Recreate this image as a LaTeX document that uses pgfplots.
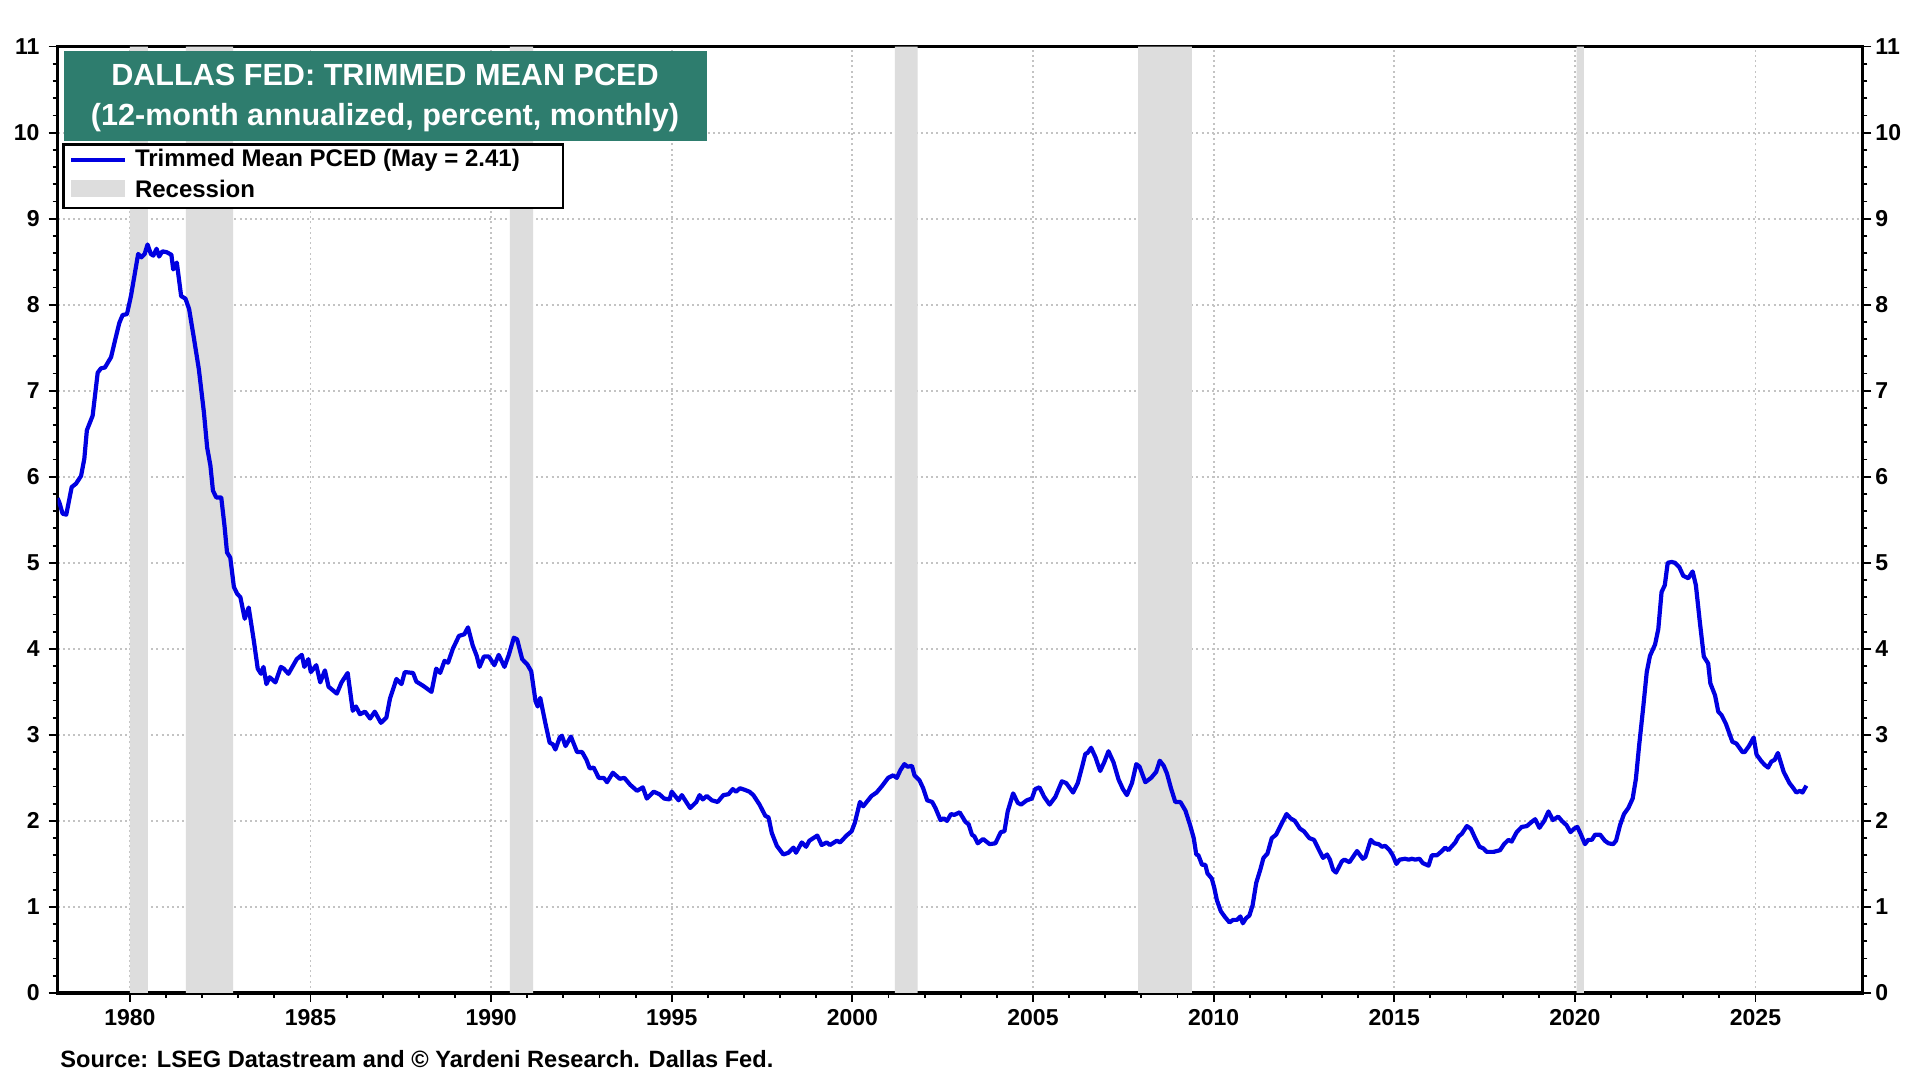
\documentclass[border=0pt]{standalone}
\usepackage{fontspec}
\setmainfont{Liberation Sans}
\usepackage{pgfplots}
\pgfplotsset{compat=1.18}
\definecolor{ttl}{RGB}{46,125,110}
\definecolor{ln}{RGB}{0,0,225}
\definecolor{rec}{RGB}{221,221,221}
\definecolor{grd}{RGB}{195,195,195}
\begin{document}
\begin{tikzpicture}
\useasboundingbox (0,0) rectangle (960pt,540pt);
\fill[white] (0,0) rectangle (960pt,540pt);
\begin{axis}[
 at={(28.8pt,43.5pt)}, anchor=south west, scale only axis, width=902.4pt, height=473.2pt,
 xmin=1978, xmax=2027.96, ymin=0, ymax=11,
 xtick={1980,1985,...,2025}, minor x tick num=4,
 ytick={0,...,11}, minor y tick num=4,
 xtick pos=bottom, ytick pos=both, tick align=outside,
 major tick length=4.5pt, minor tick length=2.5pt,
 tick style={black, line width=0.9pt},
 axis line style={line width=1.9pt},
 xmajorgrids, ymajorgrids,
 major grid style={grd, line width=0.9pt, dash pattern=on 1pt off 1.6pt},
 /pgf/number format/1000 sep={}, /pgf/number format/assume math mode=true,
 tick label style={font=\fontsize{11.5}{12}\selectfont\bfseries},
 yticklabel style={xshift=-1pt},
]
\addplot[fill=rec, draw=none] coordinates {(1980.0,0) (1980.0,11) (1980.5,11) (1980.5,0)} \closedcycle;
\addplot[fill=rec, draw=none] coordinates {(1981.55,0) (1981.55,11) (1982.86,11) (1982.86,0)} \closedcycle;
\addplot[fill=rec, draw=none] coordinates {(1990.52,0) (1990.52,11) (1991.16,11) (1991.16,0)} \closedcycle;
\addplot[fill=rec, draw=none] coordinates {(2001.18,0) (2001.18,11) (2001.81,11) (2001.81,0)} \closedcycle;
\addplot[fill=rec, draw=none] coordinates {(2007.91,0) (2007.91,11) (2009.40,11) (2009.40,0)} \closedcycle;
\addplot[fill=rec, draw=none] coordinates {(2020.05,0) (2020.05,11) (2020.25,11) (2020.25,0)} \closedcycle;
\addplot[ln, line width=2.1pt, line join=round] coordinates {
(1978.00,5.75) (1978.05,5.70) (1978.14,5.57) (1978.24,5.56) (1978.39,5.88) (1978.51,5.92)
(1978.65,6.01) (1978.74,6.21) (1978.81,6.54) (1978.97,6.71) (1979.11,7.21) (1979.20,7.26)
(1979.31,7.27) (1979.48,7.39) (1979.61,7.62) (1979.71,7.79) (1979.80,7.88) (1979.92,7.89)
(1980.03,8.10) (1980.12,8.32) (1980.23,8.59) (1980.32,8.55) (1980.41,8.59) (1980.49,8.70)
(1980.58,8.59) (1980.65,8.57) (1980.74,8.65) (1980.81,8.56) (1980.90,8.62) (1981.02,8.61)
(1981.15,8.58) (1981.20,8.41) (1981.30,8.49) (1981.42,8.10) (1981.54,8.07) (1981.64,7.95)
(1981.77,7.62) (1981.91,7.25) (1982.05,6.75) (1982.14,6.34) (1982.23,6.13) (1982.30,5.84)
(1982.39,5.76) (1982.53,5.76) (1982.62,5.43) (1982.69,5.12) (1982.78,5.06) (1982.88,4.72)
(1982.97,4.64) (1983.06,4.60) (1983.18,4.35) (1983.29,4.48) (1983.43,4.10) (1983.54,3.77)
(1983.63,3.71) (1983.70,3.79) (1983.78,3.59) (1983.87,3.67) (1984.03,3.61) (1984.18,3.79)
(1984.26,3.77) (1984.39,3.71) (1984.62,3.88) (1984.76,3.93) (1984.83,3.79) (1984.94,3.88)
(1985.01,3.73) (1985.16,3.81) (1985.27,3.61) (1985.40,3.75) (1985.50,3.56) (1985.73,3.48)
(1985.86,3.61) (1986.03,3.72) (1986.17,3.28) (1986.26,3.33) (1986.37,3.24) (1986.51,3.27)
(1986.65,3.19) (1986.78,3.27) (1986.95,3.14) (1987.10,3.20) (1987.20,3.42) (1987.38,3.65)
(1987.52,3.59) (1987.61,3.73) (1987.84,3.72) (1987.93,3.62) (1988.12,3.57) (1988.35,3.50)
(1988.48,3.77) (1988.59,3.72) (1988.71,3.86) (1988.81,3.84) (1988.94,4.00) (1989.11,4.15)
(1989.26,4.17) (1989.36,4.25) (1989.49,4.04) (1989.60,3.92) (1989.68,3.79)
(1989.80,3.91) (1989.94,3.91) (1990.09,3.81) (1990.21,3.93) (1990.37,3.79) (1990.49,3.93)
(1990.63,4.13) (1990.72,4.11) (1990.86,3.88) (1991.00,3.82) (1991.11,3.74) (1991.23,3.39)
(1991.29,3.33) (1991.36,3.43) (1991.50,3.14) (1991.62,2.91) (1991.71,2.89) (1991.78,2.83)
(1991.90,2.97) (1991.96,2.99) (1992.06,2.87) (1992.21,2.98) (1992.38,2.80) (1992.52,2.80)
(1992.64,2.71) (1992.73,2.61) (1992.84,2.62) (1992.98,2.50) (1993.12,2.50) (1993.21,2.45)
(1993.37,2.56) (1993.56,2.49) (1993.69,2.50) (1993.85,2.42) (1994.04,2.35) (1994.20,2.39)
(1994.31,2.26) (1994.50,2.34) (1994.66,2.31) (1994.79,2.26) (1994.94,2.25) (1995.00,2.34)
(1995.19,2.24) (1995.28,2.30) (1995.51,2.15) (1995.68,2.22) (1995.77,2.30) (1995.86,2.25)
(1995.97,2.29) (1996.11,2.24) (1996.27,2.22) (1996.43,2.30) (1996.57,2.31) (1996.69,2.37)
(1996.78,2.34) (1996.89,2.38) (1997.03,2.36) (1997.15,2.34) (1997.26,2.30) (1997.43,2.19)
(1997.59,2.06) (1997.68,2.04) (1997.77,1.86) (1997.91,1.71) (1998.09,1.61) (1998.23,1.63)
(1998.37,1.69) (1998.44,1.63) (1998.60,1.75) (1998.72,1.70) (1998.81,1.77) (1999.03,1.83)
(1999.15,1.72) (1999.29,1.75) (1999.38,1.72) (1999.57,1.77) (1999.66,1.75) (1999.84,1.83)
(1999.98,1.88) (2000.07,1.98) (2000.21,2.22) (2000.30,2.17) (2000.53,2.29) (2000.67,2.33)
(2000.81,2.40) (2000.99,2.50) (2001.13,2.53) (2001.23,2.50)
(2001.33,2.59) (2001.44,2.66) (2001.53,2.63) (2001.65,2.64) (2001.72,2.53) (2001.86,2.47)
(2001.96,2.38) (2002.07,2.24) (2002.21,2.22) (2002.30,2.15) (2002.44,2.01) (2002.53,2.03)
(2002.62,2.00) (2002.73,2.08) (2002.82,2.07) (2002.97,2.10) (2003.13,1.99) (2003.22,1.96)
(2003.31,1.84) (2003.38,1.82) (2003.47,1.74) (2003.62,1.79) (2003.80,1.73) (2003.96,1.74)
(2004.11,1.87) (2004.21,1.88) (2004.30,2.11) (2004.45,2.32) (2004.58,2.21) (2004.67,2.19)
(2004.83,2.24) (2004.97,2.26) (2005.06,2.37) (2005.18,2.39) (2005.31,2.28) (2005.46,2.19)
(2005.62,2.28) (2005.80,2.46) (2005.92,2.44) (2006.11,2.33) (2006.24,2.44) (2006.36,2.63)
(2006.45,2.78) (2006.51,2.79) (2006.61,2.85) (2006.73,2.74) (2006.86,2.58) (2006.97,2.68)
(2007.09,2.81) (2007.23,2.68) (2007.37,2.48) (2007.49,2.37) (2007.60,2.30) (2007.74,2.44)
(2007.86,2.66) (2007.95,2.63) (2008.11,2.45) (2008.27,2.50) (2008.41,2.57) (2008.51,2.70)
(2008.62,2.64) (2008.71,2.55) (2008.82,2.38) (2008.94,2.22) (2009.08,2.22) (2009.22,2.12)
(2009.35,1.95) (2009.45,1.80) (2009.52,1.61) (2009.58,1.60) (2009.68,1.49) (2009.77,1.49)
(2009.83,1.39) (2009.95,1.33) (2010.02,1.22) (2010.09,1.08) (2010.20,0.95) (2010.32,0.88)
(2010.44,0.82) (2010.54,0.85) (2010.65,0.85) (2010.74,0.89) (2010.81,0.81) (2010.90,0.87)
(2010.99,0.90) (2011.08,1.02) (2011.18,1.28) (2011.29,1.43) (2011.38,1.57) (2011.49,1.62)
(2011.61,1.80) (2011.73,1.84) (2011.86,1.95) (2012.02,2.08) (2012.13,2.03) (2012.25,2.00)
(2012.39,1.91) (2012.50,1.88) (2012.65,1.80) (2012.78,1.78) (2012.92,1.66) (2013.03,1.57)
(2013.14,1.61) (2013.22,1.55) (2013.31,1.43) (2013.39,1.40) (2013.55,1.53)
(2013.62,1.55) (2013.76,1.52) (2013.97,1.65) (2014.13,1.56) (2014.20,1.58) (2014.35,1.78)
(2014.45,1.74) (2014.57,1.73) (2014.66,1.70) (2014.75,1.71) (2014.87,1.66) (2014.96,1.60)
(2015.06,1.50) (2015.15,1.55) (2015.30,1.56) (2015.40,1.55) (2015.49,1.56) (2015.58,1.55)
(2015.70,1.56) (2015.79,1.51) (2015.95,1.48) (2016.04,1.60) (2016.18,1.60) (2016.32,1.65)
(2016.41,1.69) (2016.50,1.66) (2016.69,1.75) (2016.78,1.82) (2016.87,1.85) (2017.01,1.94)
(2017.12,1.91) (2017.24,1.80) (2017.36,1.70) (2017.47,1.68) (2017.56,1.64) (2017.75,1.64)
(2017.93,1.66) (2018.04,1.73) (2018.16,1.78) (2018.25,1.76) (2018.39,1.87) (2018.53,1.93)
(2018.67,1.94) (2018.81,1.99) (2018.90,2.02) (2019.02,1.92) (2019.15,2.00) (2019.27,2.11)
(2019.39,2.01) (2019.54,2.05) (2019.64,2.00) (2019.77,1.95) (2019.88,1.87) (2019.98,1.91)
(2020.07,1.93) (2020.16,1.85) (2020.28,1.73) (2020.37,1.78) (2020.47,1.78) (2020.56,1.84)
(2020.70,1.84) (2020.83,1.77) (2020.93,1.74) (2021.06,1.73) (2021.14,1.77) (2021.25,1.95)
(2021.36,2.08) (2021.48,2.15) (2021.60,2.26) (2021.69,2.49) (2021.78,2.88) (2021.89,3.31)
(2021.99,3.73) (2022.08,3.92) (2022.22,4.05) (2022.31,4.23) (2022.40,4.66) (2022.49,4.74)
(2022.57,5.00) (2022.68,5.01) (2022.77,5.00) (2022.89,4.95) (2023.00,4.85) (2023.14,4.82)
(2023.26,4.90) (2023.35,4.74) (2023.46,4.31) (2023.57,3.91) (2023.69,3.83) (2023.75,3.60)
(2023.88,3.46) (2023.97,3.27) (2024.06,3.23) (2024.18,3.13) (2024.36,2.92) (2024.47,2.90)
(2024.64,2.80) (2024.70,2.80) (2024.82,2.87) (2024.95,2.97) (2025.03,2.77) (2025.17,2.69)
(2025.26,2.65) (2025.35,2.62) (2025.44,2.69) (2025.53,2.71) (2025.62,2.79) (2025.78,2.57)
(2025.94,2.44) (2026.05,2.38) (2026.13,2.33) (2026.23,2.35) (2026.30,2.33) (2026.41,2.41)
};
\end{axis}
\begin{axis}[
 at={(28.8pt,43.5pt)}, anchor=south west, scale only axis, width=902.4pt, height=473.2pt,
 xmin=1978, xmax=2027.96, ymin=0, ymax=11,
 hide x axis, axis y line*=right, y axis line style={draw=none},
 ytick={0,...,11}, ytick style={draw=none},
 /pgf/number format/assume math mode=true,
 yticklabel style={font=\fontsize{11.5}{12}\selectfont\bfseries, xshift=3pt},
]
\addplot[draw=none] coordinates {(1978,0) (2027,11)};
\end{axis}
% title box
\fill[ttl] (31.8pt,469.6pt) rectangle (353.3pt,514.3pt);
\node[white, font=\fontsize{15.3}{16}\selectfont\bfseries, anchor=center] at (192.5pt,502.7pt) {DALLAS FED: TRIMMED MEAN PCED};
\node[white, font=\fontsize{15.3}{16}\selectfont\bfseries, anchor=center] at (192.5pt,481.2pt) {(12-month annualized, percent, monthly)};
% legend
\filldraw[fill=white, draw=black, line width=1.2pt] (31.8pt,435.9pt) rectangle (281.6pt,467.8pt);
\draw[ln, line width=2.1pt] (35.5pt,459.8pt) -- (62.4pt,459.8pt);
\fill[rec] (35.5pt,441.4pt) rectangle (62.4pt,450pt);
\node[anchor=west, inner sep=0, font=\fontsize{12}{13}\selectfont\bfseries] at (67.3pt,459.8pt) {Trimmed Mean PCED (May = 2.41)};
\node[anchor=west, inner sep=0, font=\fontsize{12}{13}\selectfont\bfseries] at (67.3pt,445.7pt) {Recession};
% source
\node[anchor=west, inner sep=0, font=\fontsize{11.8}{13}\selectfont\bfseries] at (30pt,10.4pt) {Source: LSEG Datastream and © Yardeni Research. Dallas Fed.};
\end{tikzpicture}
\end{document}
